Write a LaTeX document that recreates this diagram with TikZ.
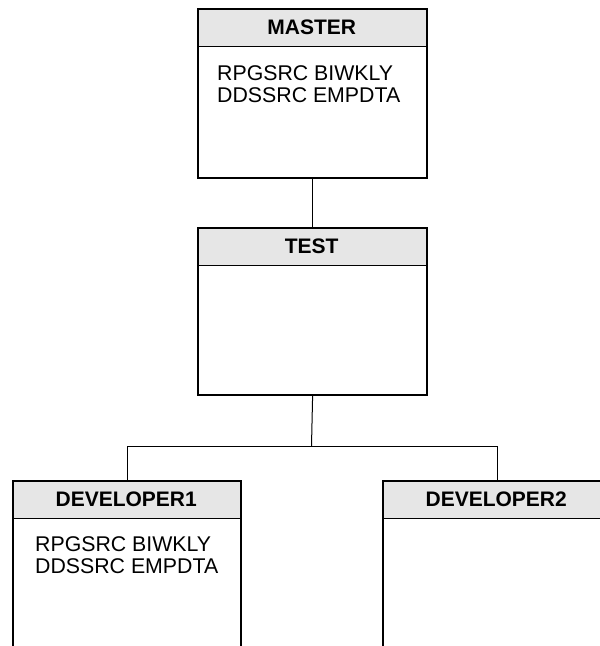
\documentclass[tikz,border=0pt]{standalone}
\usepackage{fontspec}
\setmainfont{Liberation Sans}
\definecolor{hdrgray}{HTML}{E6E6E6}
\begin{document}
\begin{tikzpicture}[x=1pt,y=-1pt,
  box/.style={draw=black, line width=2.2pt, minimum width=229pt, inner sep=0pt, anchor=north west},
  hdr/.style={fill=hdrgray, minimum width=229pt, minimum height=38pt, anchor=north west, inner sep=0pt, font=\bfseries\fontsize{21}{24}\selectfont},
  sep/.style={draw=black, line width=0.8pt},
  body/.style={anchor=north west, align=left, inner sep=0pt, font=\fontsize{21.3}{22.5}\selectfont},
  link/.style={draw=black, line width=1pt}]
\clip (0,0) rectangle (600,646);
\fill[white] (0,0) rectangle (600,646);

% MASTER
\node[hdr] (mh) at (197,8) {MASTER};
\node[box, minimum height=169pt] (master) at (197,8) {};
\draw[sep] (mh.south west) -- (mh.south east);
\node[body] (mt) at (217,65) {RPGSRC BIWKLY\\DDSSRC EMPDTA};

% TEST
\node[hdr] (th) at (197,227) {TEST};
\node[box, minimum height=167pt] (test) at (197,227) {};
\draw[sep] (th.south west) -- (th.south east);

% DEVELOPER1
\node[hdr, minimum width=228pt] (d1h) at (12,480) {DEVELOPER1};
\node[box, minimum width=228pt, minimum height=190pt] (dev1) at (12,480) {};
\draw[sep] (d1h.south west) -- (d1h.south east);
\node[body] (d1t) at (35,536) {RPGSRC BIWKLY\\DDSSRC EMPDTA};

% DEVELOPER2
\node[hdr, minimum width=228pt] (d2h) at (382,480) {DEVELOPER2};
\node[box, minimum width=228pt, minimum height=190pt] (dev2) at (382,480) {};
\draw[sep] (d2h.south west) -- (d2h.south east);

% connectors
\coordinate (split) at (311.5,446);
\draw[link] (master.south) -- (test.north);
\draw[link] (test.south) -- (split);
\draw[link] (split) -| (dev1.north);
\draw[link] (split) -| (dev2.north);
\end{tikzpicture}
\end{document}
